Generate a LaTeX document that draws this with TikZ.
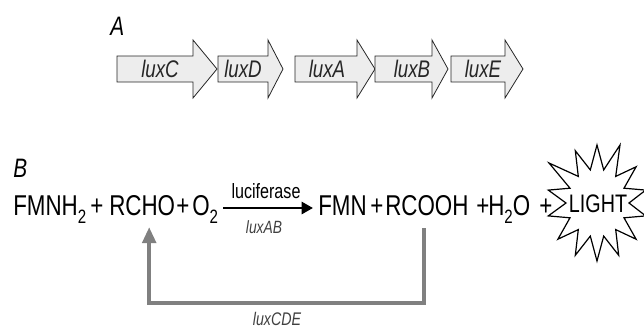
\documentclass[tikz,border=0pt]{standalone}
\usepackage{fontspec}
\setmainfont{Liberation Sans}[FakeStretch=0.78]
\usetikzlibrary{arrows.meta,calc}
\definecolor{genefill}{HTML}{EDEDED}
\definecolor{backgray}{HTML}{808080}
\newcommand\low[1]{\raisebox{-6pt}{\fontsize{14.5}{15}\selectfont #1}}
\begin{document}
\begin{tikzpicture}[x=0.75pt,y=-0.75pt,
    chem/.style={anchor=base west,inner sep=0,font=\fontsize{21.5}{25}\selectfont},
    panel/.style={anchor=base west,inner sep=0,font=\fontsize{20}{22}\selectfont\itshape},
    gene/.style={draw=black!85,fill=genefill,line width=0.6pt},
    genelabel/.style={anchor=base,inner sep=0,text=black!85,font=\fontsize{18}{19}\selectfont\itshape},
    react/.style={-{Triangle[length=8.5pt,width=9pt]},line width=2pt},
    recycle/.style={-{Triangle[length=12pt,width=10pt]},draw=backgray,line width=3pt},
    burst/.style={draw,fill=white,line width=0.9pt,line join=miter}]
  \useasboundingbox (0,0) rectangle (644,329);
  \node[panel] (pa) at (110,35) {A};
  \foreach \a/\b/\c/\m/\g in {117/193/217/160/luxC,218/268/283/243/luxD,295/357/375/327/luxA,375/432/448/412/luxB,451/505/523/483/luxE}{
    \draw[gene] (\a,56) -- (\b,56) -- (\b,40) -- (\c,69) -- (\b,98) -- (\b,82) -- (\a,82) -- cycle;
    \node[genelabel] (\g) at (\m,77) {\g};
  }
  \node[panel] (pb) at (13,177) {B};
  \node[chem] (fmnh) at (13,215) {FMNH\low{2}};
  \node[chem] (p1) at (90,215) {+};
  \node[chem] (rcho) at (109,215) {RCHO};
  \node[chem] (p2) at (176,215) {+};
  \node[chem] (otwo) at (192,215) {O\low{2}};
  \node[chem] (fmn) at (318,215) {FMN};
  \node[chem] (p3) at (370,215) {+};
  \node[chem] (rcooh) at (385,215) {RCOOH};
  \node[chem] (p4) at (476,215) {+};
  \node[chem] (water) at (488,215) {H\low{2}O};
  \node[chem] (p5) at (539,215) {+};
  \draw[react] ($(otwo.base east)+(5,-7)$) -- ($(fmn.base west)+(-5,-7)$);
  \node[anchor=base,inner sep=0,font=\fontsize{15.5}{17}\selectfont] (enz) at (266,198) {luciferase};
  \node[anchor=base,inner sep=0,text=black!75,font=\fontsize{13.3}{15}\selectfont\itshape] (ab) at (264,233) {luxAB};
  \draw[burst] (597,145) -- (590.3,169.9) -- (575.3,150.7) -- (578.3,176.4) -- (549,163) -- (570,188.2)
    -- (548.3,190.1) -- (566,203) -- (548.3,215.9) -- (570,217.8) -- (557.9,239.2) -- (578.3,229.6)
    -- (575.3,255.3) -- (590.3,236.1) -- (597,261) -- (603.7,236.1) -- (618.7,255.3) -- (615.7,229.6)
    -- (636.1,239.2) -- (624,217.8) -- (645.7,215.9) -- (629,203) -- (645.7,190.1) -- (624,188.2)
    -- (636.1,166.8) -- (615.7,176.4) -- (620,145) -- (603.7,169.9) -- cycle;
  \node[anchor=base,inner sep=0,font=\fontsize{19}{22}\selectfont] (light) at (598,212) {LIGHT};
  \draw[recycle] ($(rcooh.base)+(-3,13)$) -- ++(0,75) -| ($(rcho.base)+(7,12)$);
  \node[anchor=base,inner sep=0,text=black!75,font=\fontsize{13.7}{15}\selectfont\itshape] (cde) at (277,325) {luxCDE};
\end{tikzpicture}
\end{document}
